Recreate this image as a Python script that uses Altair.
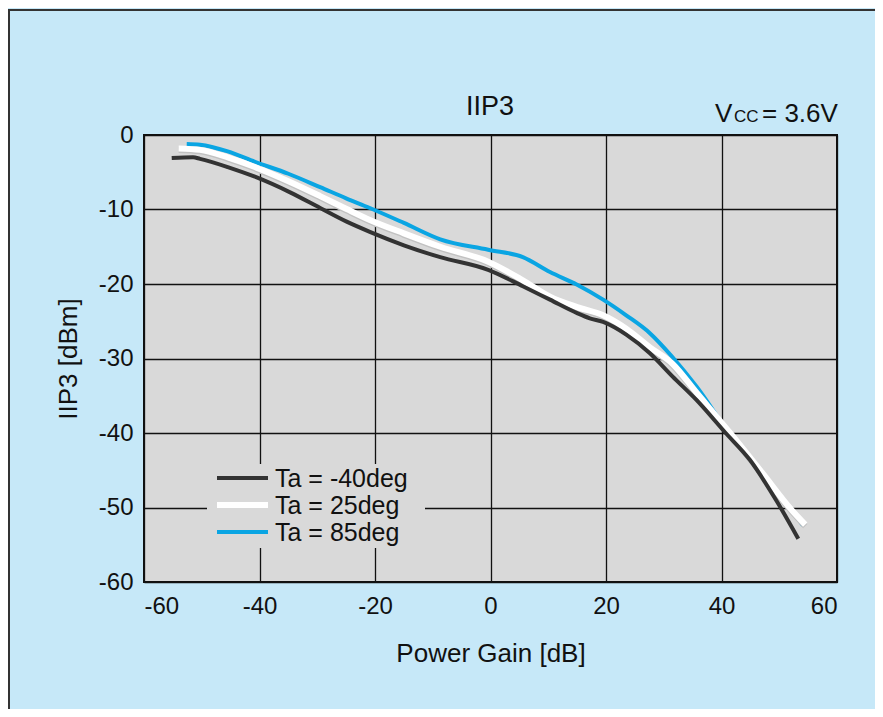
import altair as alt
import pandas as pd

# ---- data ----
series_names = ["Ta = -40deg", "Ta = 25deg", "Ta = 85deg"]
series_colors = ["#333333", "#ffffff", "#0aa5e3"]
series_widths = [4, 6, 4]

black_x = [-55.2, -51.5, -50.3, -45.5, -40.8, -34.7, -29.5, -25.0, -20.9, -15.0, -8.7, -0.4, 5.6, 10.3, 15.0, 17.2, 19.5, 23.5, 27.6, 31.5, 35.7, 40.6, 44.9, 49.6, 53.3]
black_y = [-3.1, -3.0, -3.2, -4.3, -5.6, -7.7, -9.8, -11.6, -13.0, -14.8, -16.4, -18.1, -20.3, -22.1, -23.9, -24.6, -25.1, -26.8, -29.3, -32.4, -35.6, -39.9, -43.6, -49.2, -54.2]

white_x = [-54.0, -50.3, -45.5, -40.8, -35.0, -29.5, -25.0, -20.9, -15.0, -8.7, -0.4, 5.6, 10.3, 15.0, 19.5, 23.5, 27.6, 31.5, 35.7, 41.5, 47.0, 52.0, 54.5]
white_y = [-1.8, -2.0, -3.0, -4.3, -6.2, -8.2, -9.9, -11.4, -13.2, -15.0, -17.0, -19.5, -21.7, -23.1, -24.2, -26.0, -28.5, -30.7, -34.6, -40.0, -45.3, -50.2, -52.3]

blue_x = [-52.6, -50.3, -45.5, -40.8, -35.0, -29.5, -25.0, -20.9, -15.0, -8.7, -0.4, 5.6, 10.3, 15.0, 19.5, 23.5, 27.6, 31.5, 35.7, 41.3, 47.0, 51.8, 54.1]
blue_y = [-1.2, -1.3, -2.2, -3.6, -5.2, -7.0, -8.5, -9.8, -11.8, -14.0, -15.4, -16.4, -18.4, -20.1, -22.1, -24.2, -26.6, -29.8, -33.8, -40.0, -45.4, -50.0, -52.4]

x_ticks = [-60, -40, -20, 0, 20, 40, 60]
y_ticks = [-60, -50, -40, -30, -20, -10, 0]

FONT = "Liberation Sans"
BG = "#c6e8f8"
PLOT_BG = "#d9d9d9"
INK = "#111111"

df_black = pd.DataFrame({"gain": black_x, "iip3": black_y, "series": series_names[0]})
df_white = pd.DataFrame({"gain": white_x, "iip3": white_y, "series": series_names[1]})
df_blue = pd.DataFrame({"gain": blue_x, "iip3": blue_y, "series": series_names[2]})

lbl = "datum.value + ''"
x_enc = alt.X("gain:Q", scale=alt.Scale(domain=[-60, 60], nice=False),
              axis=alt.Axis(values=x_ticks, title="Power Gain [dB]", labelExpr=lbl))
y_enc = alt.Y("iip3:Q", scale=alt.Scale(domain=[-60, 0], nice=False),
              axis=alt.Axis(values=y_ticks, title="IIP3 [dBm]", labelExpr=lbl))
color_enc = alt.Color("series:N",
                      scale=alt.Scale(domain=series_names, range=series_colors),
                      legend=None)

blue_line = alt.Chart(df_blue).mark_line(strokeWidth=4, interpolate="monotone").encode(
    x=x_enc, y=y_enc, color=color_enc)
shadow_line = alt.Chart(df_white).mark_line(strokeWidth=6, interpolate="monotone",
                                            color="#c2c2c2", yOffset=1.5).encode(
    x=x_enc, y=y_enc)
white_line = alt.Chart(df_white).mark_line(strokeWidth=6, interpolate="monotone").encode(
    x=x_enc, y=y_enc, color=color_enc)
black_line = alt.Chart(df_black).mark_line(strokeWidth=4, interpolate="monotone").encode(
    x=x_enc, y=y_enc, color=color_enc)

one = pd.DataFrame({"k": [0]})

title_txt = alt.Chart(one).mark_text(text="IIP3", font=FONT, fontSize=27, align="center",
                                     baseline="alphabetic", color=INK).encode(
    x=alt.value(346), y=alt.value(-20))
v_txt = alt.Chart(one).mark_text(text="V", font=FONT, fontSize=26, align="left",
                                 baseline="alphabetic", color=INK).encode(
    x=alt.value(571), y=alt.value(-13))
cc_txt = alt.Chart(one).mark_text(text="CC", font=FONT, fontSize=17, align="left",
                                  baseline="alphabetic", color=INK).encode(
    x=alt.value(590), y=alt.value(-13))
eq_txt = alt.Chart(one).mark_text(text="= 3.6V", font=FONT, fontSize=26, align="left",
                                  baseline="alphabetic", color=INK).encode(
    x=alt.value(618), y=alt.value(-13))

frame_left = alt.Chart(one).mark_rule(color="#333333", strokeWidth=2).encode(
    x=alt.value(-135), y=alt.value(-125), y2=alt.value(574))
frame_top = alt.Chart(one).mark_rule(color="#333333", strokeWidth=2).encode(
    x=alt.value(-136), x2=alt.value(731), y=alt.value(-125))

# ---- legend drawn inside the plot, over a gray box ----
legend_box = alt.Chart(one).mark_rect(fill=PLOT_BG).encode(
    x=alt.value(63), x2=alt.value(281), y=alt.value(329), y2=alt.value(413))
legend_layers = [legend_box]
row_y = [343, 370, 397]
for name, col, w, ry in zip(series_names, series_colors, series_widths, row_y):
    legend_layers.append(
        alt.Chart(one).mark_rule(color=col, strokeWidth=w).encode(
            x=alt.value(73), x2=alt.value(124), y=alt.value(ry)))
    legend_layers.append(
        alt.Chart(one).mark_text(text=name, font=FONT, fontSize=25, align="left",
                                 baseline="middle", color=INK).encode(
            x=alt.value(131), y=alt.value(ry + 1)))

chart = alt.layer(
    frame_left, frame_top, blue_line, shadow_line, white_line, black_line,
    *legend_layers,
    title_txt, v_txt, cc_txt, eq_txt
).properties(
    width=693, height=447,
    autosize=alt.AutoSizeParams(type="none"),
    padding={"left": 136, "top": 127, "right": 38, "bottom": 127},
    background=BG,
).configure_view(
    fill=PLOT_BG, stroke=INK, strokeWidth=2
).configure_axis(
    grid=True, gridColor=INK, gridWidth=1.3, gridOpacity=1,
    domain=False, ticks=False,
    labelFont=FONT, labelFontSize=24, labelColor=INK,
    titleFont=FONT, titleFontSize=26, titleColor=INK, titleFontWeight="normal",
).configure_axisX(
    labelPadding=12, titlePadding=22
).configure_axisY(
    labelPadding=11, titlePadding=17
)

chart.save("out.html", embed_options={"renderer": "svg", "actions": False})
